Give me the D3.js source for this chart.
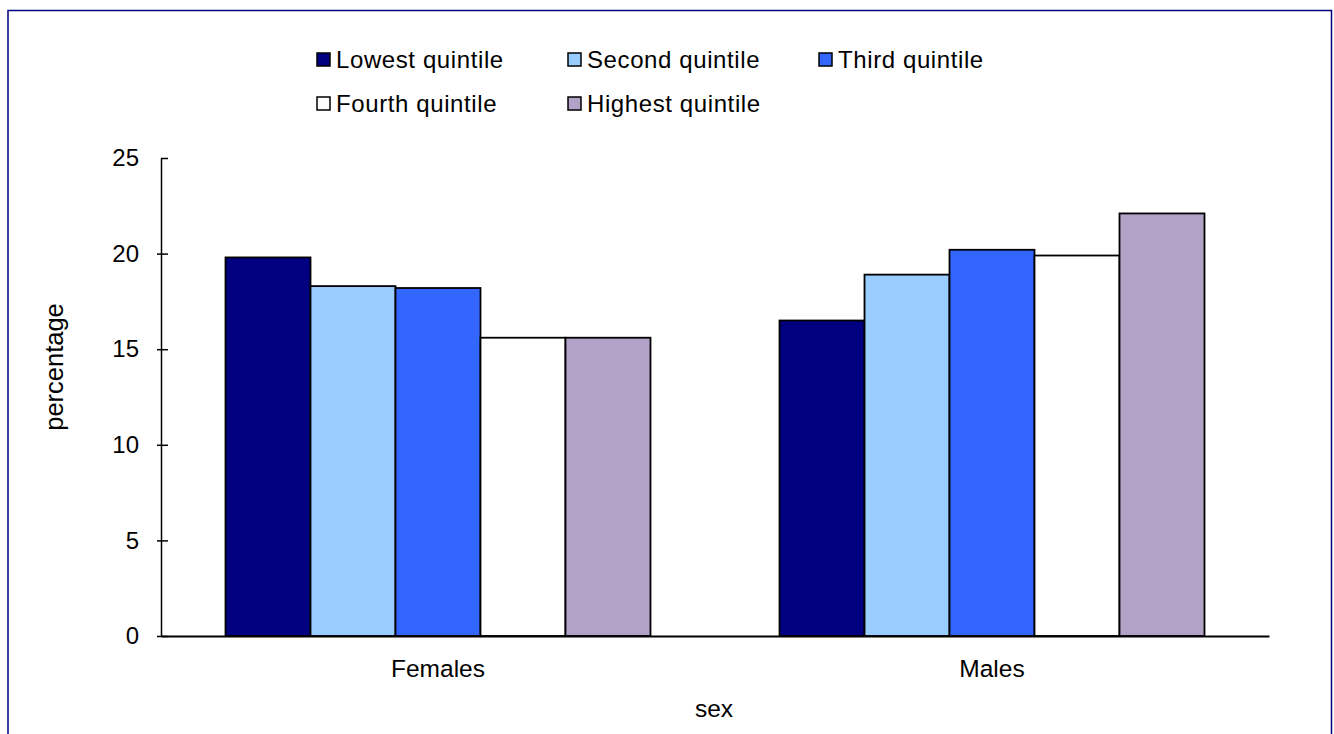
<!DOCTYPE html>
<html>
<head>
<meta charset="utf-8">
<script src="https://cdn.jsdelivr.net/npm/d3@7"></script>
<style>
  html, body { margin: 0; padding: 0; background: #fff; }
  svg { display: block; font-family: "Liberation Sans", Arial, sans-serif; }
</style>
</head>
<body>
<svg id="chart" width="1334" height="734"></svg>
<script>
const categories = ["Females", "Males"];
const series = ["Lowest quintile", "Second quintile", "Third quintile", "Fourth quintile", "Highest quintile"];
const colors = ["#000080", "#99CCFF", "#3366FF", "#FFFFFF", "#B2A2C8"];
const femalesValues = [19.8, 18.3, 18.2, 15.6, 15.6];
const malesValues = [16.5, 18.9, 20.2, 19.9, 22.1];
const yTicks = [0, 5, 10, 15, 20, 25];
const xTitle = "sex";
const yTitle = "percentage";

const values = { Females: femalesValues, Males: malesValues };

const svg = d3.select("#chart");

// outer frame
svg.append("rect")
  .attr("x", 8).attr("y", 10.5).attr("width", 1323.5).attr("height", 740)
  .attr("fill", "none").attr("stroke", "#000080").attr("stroke-width", 1.5);

const plot = { left: 161, right: 1269, top: 158, bottom: 636 };

const y = d3.scaleLinear().domain([0, 25]).range([plot.bottom, plot.top]);
const x0 = d3.scaleBand().domain(categories).range([plot.left, plot.right]).padding(0);
const x1 = d3.scaleBand().domain(series).range([0, x0.bandwidth()]).paddingInner(0).paddingOuter(0.759);
const color = d3.scaleOrdinal().domain(series).range(colors);

// bars
const groups = svg.append("g").selectAll("g")
  .data(categories).join("g")
  .attr("transform", d => `translate(${x0(d)},0)`);

groups.selectAll("rect")
  .data(c => series.map((s, i) => ({ s, v: values[c][i] })))
  .join("rect")
  .attr("x", d => x1(d.s))
  .attr("y", d => y(d.v))
  .attr("width", x1.bandwidth())
  .attr("height", d => y(0) - y(d.v))
  .attr("fill", d => color(d.s))
  .attr("stroke", "#000")
  .attr("stroke-width", 1.8);

// y axis
const yAxis = d3.axisLeft(y).tickValues(yTicks).tickSize(0).tickPadding(22).tickFormat(d3.format("d"));
const yg = svg.append("g").attr("transform", `translate(${plot.left},0)`).call(yAxis);
yg.select(".domain").attr("stroke", "#000").attr("stroke-width", 1.5);
yg.selectAll(".tick text").attr("font-size", 24).attr("fill", "#000")
  .attr("font-family", "Liberation Sans, Arial, sans-serif");
yg.selectAll(".tick").append("line")
  .attr("x1", d => d === 25 ? 0 : -4).attr("x2", 7).attr("stroke", "#000").attr("stroke-width", 1.5);

// x axis
const xAxis = d3.axisBottom(x0).tickSize(0).tickPadding(24);
const xg = svg.append("g").attr("transform", `translate(0,${plot.bottom})`).call(xAxis);
xg.select(".domain").attr("stroke", "#000").attr("stroke-width", 2);
xg.selectAll(".tick text").attr("font-size", 24.5).attr("fill", "#000")
  .attr("font-family", "Liberation Sans, Arial, sans-serif");

// axis titles
svg.append("text")
  .attr("x", 714).attr("y", 717)
  .attr("text-anchor", "middle").attr("font-size", 24.5).attr("fill", "#000")
  .text(xTitle);

svg.append("text")
  .attr("transform", `translate(63,367) rotate(-90)`)
  .attr("text-anchor", "middle").attr("font-size", 25.5).attr("fill", "#000")
  .text(yTitle);

// legend
const legendPos = [
  { x: 317, y: 68 }, { x: 568, y: 68 }, { x: 819, y: 68 },
  { x: 317, y: 112 }, { x: 568, y: 112 }
];
const lg = svg.append("g").selectAll("g").data(series).join("g")
  .attr("transform", (d, i) => `translate(${legendPos[i].x},${legendPos[i].y})`);
lg.append("rect")
  .attr("x", 0).attr("y", -15).attr("width", 13).attr("height", 13)
  .attr("fill", d => color(d)).attr("stroke", "#000").attr("stroke-width", 1.5);
lg.append("text")
  .attr("x", 19).attr("y", 0)
  .attr("font-size", 24).attr("letter-spacing", "0.6px").attr("fill", "#000")
  .text(d => d);
</script>
</body>
</html>
